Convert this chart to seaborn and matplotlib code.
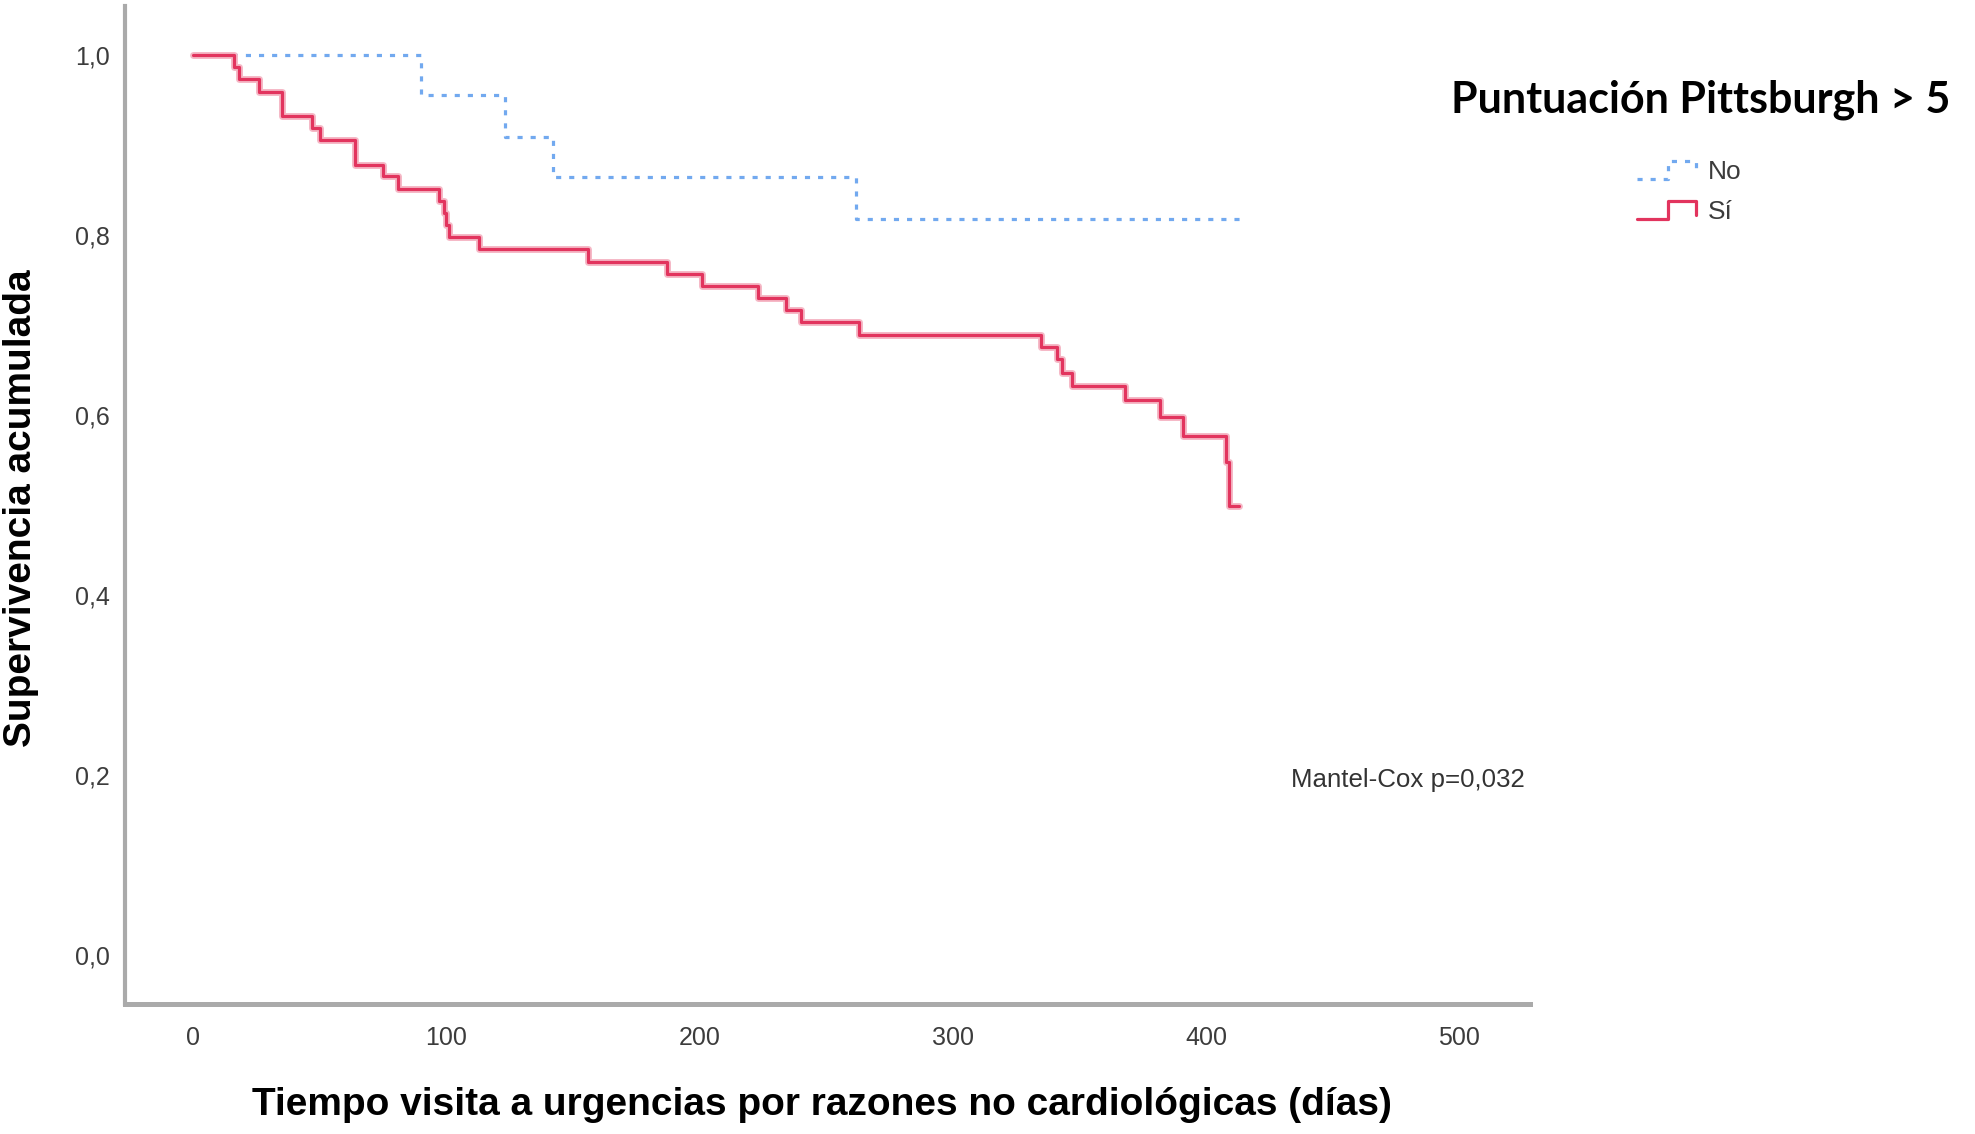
import numpy as np
import pandas as pd
import matplotlib
matplotlib.use("Agg")
import matplotlib.pyplot as plt
import matplotlib.patheffects as pe
from matplotlib.lines import Line2D
from matplotlib.legend_handler import HandlerBase
import seaborn as sns

# ---------------- data ----------------
groups = ["No", "Sí"]
no_time = [0, 90, 123, 142, 262, 416]
no_surv = [1.0, 0.955, 0.909, 0.864, 0.818, 0.818]
si_time = [0, 16, 18, 26, 35, 47, 50, 64, 75, 81, 97, 99, 100, 101, 113, 156,
           187, 201, 223, 234, 240, 263, 335, 341, 343, 347, 368, 382, 391,
           408, 409, 413]
si_surv = [1.0, 0.9865, 0.973, 0.959, 0.932, 0.919, 0.905, 0.878, 0.865,
           0.851, 0.838, 0.824, 0.811, 0.797, 0.784, 0.770, 0.757, 0.743,
           0.730, 0.716, 0.703, 0.689, 0.675, 0.662, 0.646, 0.632, 0.617,
           0.598, 0.577, 0.548, 0.499, 0.499]
x_ticks = [0, 100, 200, 300, 400, 500]
x_tick_labels = ["0", "100", "200", "300", "400", "500"]
y_ticks = [0.0, 0.2, 0.4, 0.6, 0.8, 1.0]
y_tick_labels = ["0,0", "0,2", "0,4", "0,6", "0,8", "1,0"]
legend_title = "Puntuación Pittsburgh > 5"
x_label = "Tiempo visita a urgencias por razones no cardiológicas (días)"
y_label = "Supervivencia acumulada"
annotation = "Mantel-Cox p=0,032"

df = pd.concat([
    pd.DataFrame({"t": no_time, "s": no_surv, "grupo": groups[0]}),
    pd.DataFrame({"t": si_time, "s": si_surv, "grupo": groups[1]}),
], ignore_index=True)

# ---------------- style ----------------
sns.set_style("white")
plt.rcParams["font.family"] = ["Liberation Sans", "DejaVu Sans"]

colors = {"No": "#72a9ef", "Sí": "#e2345e"}
dot_pattern = (1.6, 2.5)
dashes = {"No": dot_pattern, "Sí": ""}
lw = 2.3

W, H = 1975, 1134
fig = plt.figure(figsize=(W / 100, H / 100), dpi=100)
ax_l, ax_r, ax_b, ax_t = 125, 1530, 1004, 6
ax = fig.add_axes([ax_l / W, 1 - ax_b / H, (ax_r - ax_l) / W, (ax_b - ax_t) / H])

sns.lineplot(data=df, x="t", y="s", hue="grupo", style="grupo",
             hue_order=groups, style_order=groups, palette=colors,
             dashes=dashes, drawstyle="steps-post", estimator=None,
             linewidth=lw, legend=False, ax=ax)

for line in ax.get_lines():
    if matplotlib.colors.to_hex(line.get_color()) == colors["Sí"]:
        line.set_path_effects([pe.Stroke(linewidth=5.0, foreground="#f5b8c6"),
                               pe.Normal()])

ax.set_xlim(-26.9, 528)
ax.set_ylim(-0.054, 1.054)
ax.set_xticks(x_ticks)
ax.set_xticklabels(x_tick_labels)
ax.set_yticks(y_ticks)
ax.set_yticklabels(y_tick_labels)
ax.tick_params(axis="both", length=0, labelsize=18, colors="#3c3c3c")
ax.tick_params(axis="x", pad=16)
ax.tick_params(axis="y", pad=11)

for side in ["top", "right"]:
    ax.spines[side].set_visible(False)
ax.spines["left"].set_color("#aaaaaa")
ax.spines["left"].set_linewidth(3.0)
ax.spines["bottom"].set_color("#aaaaaa")
ax.spines["bottom"].set_linewidth(3.6)

ax.set_xlabel(x_label, fontsize=28, fontweight="bold", color="black")
ax.set_ylabel(y_label, fontsize=28, fontweight="bold", color="black")
ax.xaxis.label.set_va("center")
ax.yaxis.label.set_va("center")
ax.xaxis.set_label_coords((822 - ax_l) / (ax_r - ax_l), -(1105 - ax_b) / (ax_b - ax_t))
ax.yaxis.set_label_coords(-(ax_l - 21) / (ax_r - ax_l), (ax_b - 508) / (ax_b - ax_t))

ax.text((1291 - ax_l) / (ax_r - ax_l), (ax_b - 780) / (ax_b - ax_t), annotation,
        transform=ax.transAxes, ha="left", va="center", fontsize=18.6,
        color="#333333")

# ---------------- legend ----------------
class StepHandler(HandlerBase):
    def create_artists(self, legend, orig_handle, xdescent, ydescent,
                       width, height, fontsize, trans):
        xs = np.array([0.0, 0.52, 0.52, 1.0, 1.0]) * width - xdescent
        ys = np.array([0.0, 0.0, 1.0, 1.0, 0.25]) * height - ydescent
        ln = Line2D(xs, ys, color=orig_handle.get_color(),
                    linewidth=orig_handle.get_linewidth(), transform=trans)
        ln.set_linestyle(orig_handle.get_linestyle())
        if orig_handle._dash_pattern[1] is not None:
            ln.set_dashes(dot_pattern)
        return [ln]

proxies = [
    Line2D([], [], color=colors["No"], linewidth=lw, dashes=dot_pattern),
    Line2D([], [], color=colors["Sí"], linewidth=lw),
]
leg = fig.legend(proxies, groups, loc="upper left",
                 bbox_to_anchor=(1637 / W, 1 - 160 / H), frameon=False,
                 fontsize=19, handlelength=2.25, handleheight=0.7,
                 handletextpad=0.45, labelspacing=0.62, borderpad=0,
                 borderaxespad=0,
                 handler_map={Line2D: StepHandler()})
for t in leg.get_texts():
    t.set_color("#3c3c3c")

fig.text(1451 / W, 1 - 100 / H, legend_title, ha="left", va="center",
         fontsize=31, fontweight="bold", family=["Lato", "DejaVu Sans"],
         color="black")

fig.savefig("out.png", dpi=100)
